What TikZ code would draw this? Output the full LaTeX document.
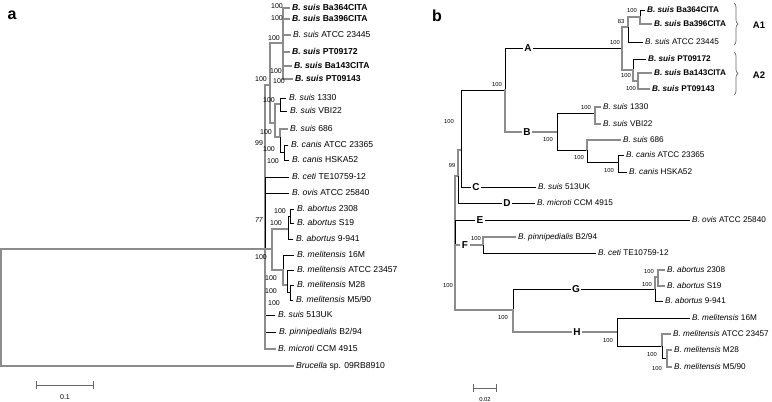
\documentclass[tikz,border=0pt]{standalone}
\usepackage{fontspec}
\setmainfont{Liberation Sans}
\usepackage{tikz}
\usetikzlibrary{decorations.pathreplacing}
\newcommand{\bsp}[2]{\textit{B. #1} #2}

\begin{document}
\begin{tikzpicture}[x=1pt,y=-1pt,line cap=rect,
                    elbow/.style={to path={|- (\tikztotarget)}},
                    gbr/.style={elbow,draw=black!45,line width=1.2pt},
                    bbr/.style={elbow,draw=black,line width=0.65pt}]
\tikzstyle{leafa}=[anchor=west,inner xsep=3pt,inner ysep=0pt,text height=6.2pt,text depth=1.6pt,font=\fontsize{8.6}{9}\selectfont]
\tikzstyle{leafb}=[anchor=west,inner xsep=2.5pt,inner ysep=0pt,text height=5.9pt,text depth=1.5pt,font=\fontsize{8.2}{9}\selectfont]
\tikzstyle{boota}=[inner sep=0pt,font=\fontsize{7}{8}\selectfont]
\tikzstyle{bootb}=[inner sep=0pt,font=\fontsize{5.8}{7}\selectfont]
\tikzstyle{clade}=[fill=white,inner sep=1.5pt,font=\bfseries\fontsize{10}{11}\selectfont]
\tikzstyle{panel}=[inner sep=0pt,font=\bfseries\fontsize{16}{18}\selectfont]
\tikzstyle{sbar}=[|-|,draw=black!60,line width=1pt]
\useasboundingbox (0,0) rectangle (772,402);

\node[panel] (pa) at (12,15) {a};
\node[panel] (pb) at (437,16) {b};

% tree a
\coordinate (ra) at (1,300);
\coordinate (ma) at (265,249);
\coordinate (aba) at (270,85);
\coordinate (aa) at (283,43);
\coordinate (ba) at (275,123);
\coordinate (b1a) at (280,104);
\coordinate (b2a) at (280,137);
\coordinate (ca) at (284,152);
\coordinate (gha) at (272,249);
\coordinate (ga) at (288,229);
\coordinate (gpa) at (290,216);
\coordinate (ha) at (283,270);
\coordinate (h2a) at (287,285);
\coordinate (hpa) at (290,292);

\node[leafa] (a1) at (289,8) {\textbf{\bsp{suis}{Ba364CITA}}};
\node[leafa] (a2) at (289,19) {\textbf{\bsp{suis}{Ba396CITA}}};
\node[leafa] (a3) at (290,35) {\bsp{suis}{ATCC 23445}};
\node[leafa] (a4) at (289,52) {\textbf{\bsp{suis}{PT09172}}};
\node[leafa] (a5) at (291,66) {\textbf{\bsp{suis}{Ba143CITA}}};
\node[leafa] (a6) at (292,79) {\textbf{\bsp{suis}{PT09143}}};
\node[leafa] (a7) at (286,98) {\bsp{suis}{1330}};
\node[leafa] (a8) at (287,111) {\bsp{suis}{VBI22}};
\node[leafa] (a9) at (287,129) {\bsp{suis}{686}};
\node[leafa] (a10) at (288,145) {\bsp{canis}{ATCC 23365}};
\node[leafa] (a11) at (289,160) {\bsp{canis}{HSKA52}};
\node[leafa] (a12) at (289,177) {\bsp{ceti}{TE10759-12}};
\node[leafa] (a13) at (289,193) {\bsp{ovis}{ATCC 25840}};
\node[leafa] (a14) at (294,209) {\bsp{abortus}{2308}};
\node[leafa] (a15) at (294,223) {\bsp{abortus}{S19}};
\node[leafa] (a16) at (293,239) {\bsp{abortus}{9-941}};
\node[leafa] (a17) at (294,255) {\bsp{melitensis}{16M}};
\node[leafa] (a18) at (294,270) {\bsp{melitensis}{ATCC 23457}};
\node[leafa] (a19) at (294,285) {\bsp{melitensis}{M28}};
\node[leafa] (a20) at (293,300) {\bsp{melitensis}{M5/90}};
\node[leafa] (a21) at (275,315) {\bsp{suis}{513UK}};
\node[leafa] (a22) at (276,332) {\bsp{pinnipedialis}{B2/94}};
\node[leafa] (a23) at (275,349) {\bsp{microti}{CCM 4915}};
\node[leafa] (a24) at (293,366) {\textit{Brucella} sp. 09RB8910};

\path (ra) edge[gbr] (ma)
           edge[gbr] (a24);
\path (ma) edge[gbr] (aba)
           edge[bbr] (a12)
           edge[bbr] (a13)
           edge[gbr] (gha)
           edge[bbr] (a21)
           edge[bbr] (a22)
           edge[gbr] (a23);
\path (aba) edge[gbr] (aa)
            edge[gbr] (ba);
\path (aa) edge[gbr] (a1) edge[gbr] (a2) edge[gbr] (a3)
           edge[gbr] (a4) edge[gbr] (a5) edge[gbr] (a6);
\path (ba) edge[gbr] (b1a)
           edge[gbr] (b2a);
\path (b1a) edge[bbr] (a7) edge[bbr] (a8);
\path (b2a) edge[gbr] (a9) edge[bbr] (ca);
\path (ca) edge[bbr] (a10) edge[bbr] (a11);
\path (gha) edge[gbr] (ga)
            edge[gbr] (ha);
\path (ga) edge[bbr] (gpa) edge[bbr] (a16);
\path (gpa) edge[bbr] (a14) edge[bbr] (a15);
\path (ha) edge[bbr] (a17) edge[gbr] (h2a);
\path (h2a) edge[bbr] (a18) edge[bbr] (hpa);
\path (hpa) edge[bbr] (a19) edge[bbr] (a20);

\node[boota] (ta1) at (277,6) {100};
\node[boota] (ta2) at (277,18) {100};
\node[boota] (ta3) at (274,38) {100};
\node[boota] (ta4) at (276,71) {100};
\node[boota] (ta5) at (279,81) {100};
\node[boota] (ta6) at (261,79) {100};
\node[boota] (ta7) at (269,100) {100};
\node[boota] (ta8) at (266,132) {100};
\node[boota] (ta9) at (259,143) {99};
\node[boota] (ta10) at (269,149) {100};
\node[boota] (ta11) at (273,161) {100};
\node[boota] (ta12) at (280,211) {100};
\node[boota] (ta13) at (259,220) {\textit{77}};
\node[boota] (ta14) at (276,223) {100};
\node[boota] (ta15) at (261,257) {100};
\node[boota] (ta16) at (271,278) {100};
\node[boota] (ta17) at (271,291) {100};
\node[boota] (ta18) at (274,303) {100};

\coordinate (sa1) at (36,385);
\coordinate (sa2) at (94,385);
\draw[sbar] (sa1) -- (sa2);
\node[boota] (sa) at (65,397) {0.1};

% tree b
\coordinate (rootb) at (455,250);
\coordinate (n99b) at (458,176);
\coordinate (abcb) at (461,150);
\coordinate (abb) at (505,90);
\coordinate (ab) at (622,48);
\coordinate (a1b) at (628,27);
\coordinate (p1b) at (640,17);
\coordinate (a2b) at (633,70);
\coordinate (p2b) at (638,81);
\coordinate (bb) at (557,132);
\coordinate (b1b) at (595,113);
\coordinate (b2b) at (587,150);
\coordinate (bcb) at (618,162);
\coordinate (fb) at (483,245);
\coordinate (ghb) at (513,310);
\coordinate (gb) at (655,289);
\coordinate (gpb) at (658,277);
\coordinate (hb) at (617,332);
\coordinate (h2b) at (662,346);
\coordinate (hpb) at (667,358);

\node[leafb] (b1) at (644.5,10) {\textbf{\bsp{suis}{Ba364CITA}}};
\node[leafb] (b2) at (651.5,24) {\textbf{\bsp{suis}{Ba396CITA}}};
\node[leafb] (b3) at (642.5,42) {\bsp{suis}{ATCC 23445}};
\node[leafb] (b4) at (645.5,59) {\textbf{\bsp{suis}{PT09172}}};
\node[leafb] (b5) at (651.5,73) {\textbf{\bsp{suis}{Ba143CITA}}};
\node[leafb] (b6) at (649.5,89) {\textbf{\bsp{suis}{PT09143}}};
\node[leafb] (b7) at (600.5,107) {\bsp{suis}{1330}};
\node[leafb] (b8) at (600.5,124) {\bsp{suis}{VBI22}};
\node[leafb] (b9) at (620.5,140) {\bsp{suis}{686}};
\node[leafb] (b10) at (623.5,155) {\bsp{canis}{ATCC 23365}};
\node[leafb] (b11) at (626.5,172) {\bsp{canis}{HSKA52}};
\node[leafb] (b12) at (535.5,187) {\bsp{suis}{513UK}};
\node[leafb] (b13) at (534.5,203) {\bsp{microti}{CCM 4915}};
\node[leafb] (b14) at (689.5,220) {\bsp{ovis}{ATCC 25840}};
\node[leafb] (b15) at (515.5,237) {\bsp{pinnipedialis}{B2/94}};
\node[leafb] (b16) at (595.5,253) {\bsp{ceti}{TE10759-12}};
\node[leafb] (b17) at (664.5,270) {\bsp{abortus}{2308}};
\node[leafb] (b18) at (664.5,286) {\bsp{abortus}{S19}};
\node[leafb] (b19) at (662.5,301) {\bsp{abortus}{9-941}};
\node[leafb] (b20) at (689.5,318) {\bsp{melitensis}{16M}};
\node[leafb] (b21) at (670.5,334) {\bsp{melitensis}{ATCC 23457}};
\node[leafb] (b22) at (671.5,350) {\bsp{melitensis}{M28}};
\node[leafb] (b23) at (671.5,367) {\bsp{melitensis}{M5/90}};

\path (rootb) edge[gbr] (n99b)
              edge[bbr] (b14)
              edge[gbr] (fb)
              edge[gbr] (ghb);
\path (n99b) edge[gbr] (abcb)
             edge[bbr] (b13);
\path (abcb) edge[bbr] (abb)
             edge[bbr] (b12);
\path (abb) edge[bbr] (ab)
            edge[gbr] (bb);
\path (ab) edge[gbr] (a1b) edge[gbr] (a2b);
\path (a1b) edge[gbr] (p1b) edge[bbr] (b3);
\path (p1b) edge[bbr] (b1) edge[gbr] (b2);
\path (a2b) edge[bbr] (b4) edge[gbr] (p2b);
\path (p2b) edge[gbr] (b5) edge[gbr] (b6);
\path (bb) edge[bbr] (b1b) edge[bbr] (b2b);
\path (b1b) edge[gbr] (b7) edge[gbr] (b8);
\path (b2b) edge[gbr] (b9) edge[bbr] (bcb);
\path (bcb) edge[bbr] (b10) edge[bbr] (b11);
\path (fb) edge[gbr] (b15) edge[bbr] (b16);
\path (ghb) edge[bbr] (gb) edge[gbr] (hb);
\path (gb) edge[gbr] (gpb) edge[bbr] (b19);
\path (gpb) edge[gbr] (b17) edge[gbr] (b18);
\path (hb) edge[bbr] (b20) edge[bbr] (h2b);
\path (h2b) edge[gbr] (b21) edge[bbr] (hpb);
\path (hpb) edge[gbr] (b22) edge[gbr] (b23);

\node[clade] (cA) at (528,48) {A};
\node[clade] (cB) at (527,132) {B};
\node[clade] (cC) at (476,187) {C};
\node[clade] (cD) at (507,203) {D};
\node[clade] (cE) at (480,220) {E};
\node[clade] (cF) at (465,245) {F};
\node[clade] (cG) at (576,289) {G};
\node[clade] (cH) at (577,332) {H};

\node[bootb] (tb1) at (449,122) {100};
\node[bootb] (tb2) at (452,165) {99};
\node[bootb] (tb3) at (448,285) {100};
\node[bootb] (tb4) at (497,85) {100};
\node[bootb] (tb5) at (615,43) {100};
\node[bootb] (tb6) at (621,22) {83};
\node[bootb] (tb7) at (632,11) {100};
\node[bootb] (tb8) at (626,76) {100};
\node[bootb] (tb9) at (631,89) {100};
\node[bootb] (tb10) at (548,140) {100};
\node[bootb] (tb11) at (586,108) {100};
\node[bootb] (tb12) at (579,158) {100};
\node[bootb] (tb13) at (609,171) {100};
\node[bootb] (tb14) at (476,238) {100};
\node[bootb] (tb15) at (503,317) {100};
\node[bootb] (tb16) at (647,284) {100};
\node[bootb] (tb17) at (649,271) {100};
\node[bootb] (tb18) at (608,340) {100};
\node[bootb] (tb19) at (652,354) {100};
\node[bootb] (tb20) at (657,368) {100};

% subgroups of A
\coordinate (kA1t) at (734,3);
\coordinate (kA1b) at (734,45);
\coordinate (kA2t) at (734,52);
\coordinate (kA2b) at (734,95);
\draw[decorate,decoration={brace,amplitude=4pt},draw=black!60,line width=0.7pt] (kA1t) -- (kA1b);
\draw[decorate,decoration={brace,amplitude=4pt},draw=black!60,line width=0.7pt] (kA2t) -- (kA2b);
\node[clade,fill=none,font=\bfseries\fontsize{9.5}{10}\selectfont] (gA1) at (759,25) {A1};
\node[clade,fill=none,font=\bfseries\fontsize{9.5}{10}\selectfont] (gA2) at (759,75) {A2};

\coordinate (sb1) at (473,388);
\coordinate (sb2) at (497,388);
\draw[sbar] (sb1) -- (sb2);
\node[bootb] (sb) at (485,399) {0.02};
\end{tikzpicture}
\end{document}
